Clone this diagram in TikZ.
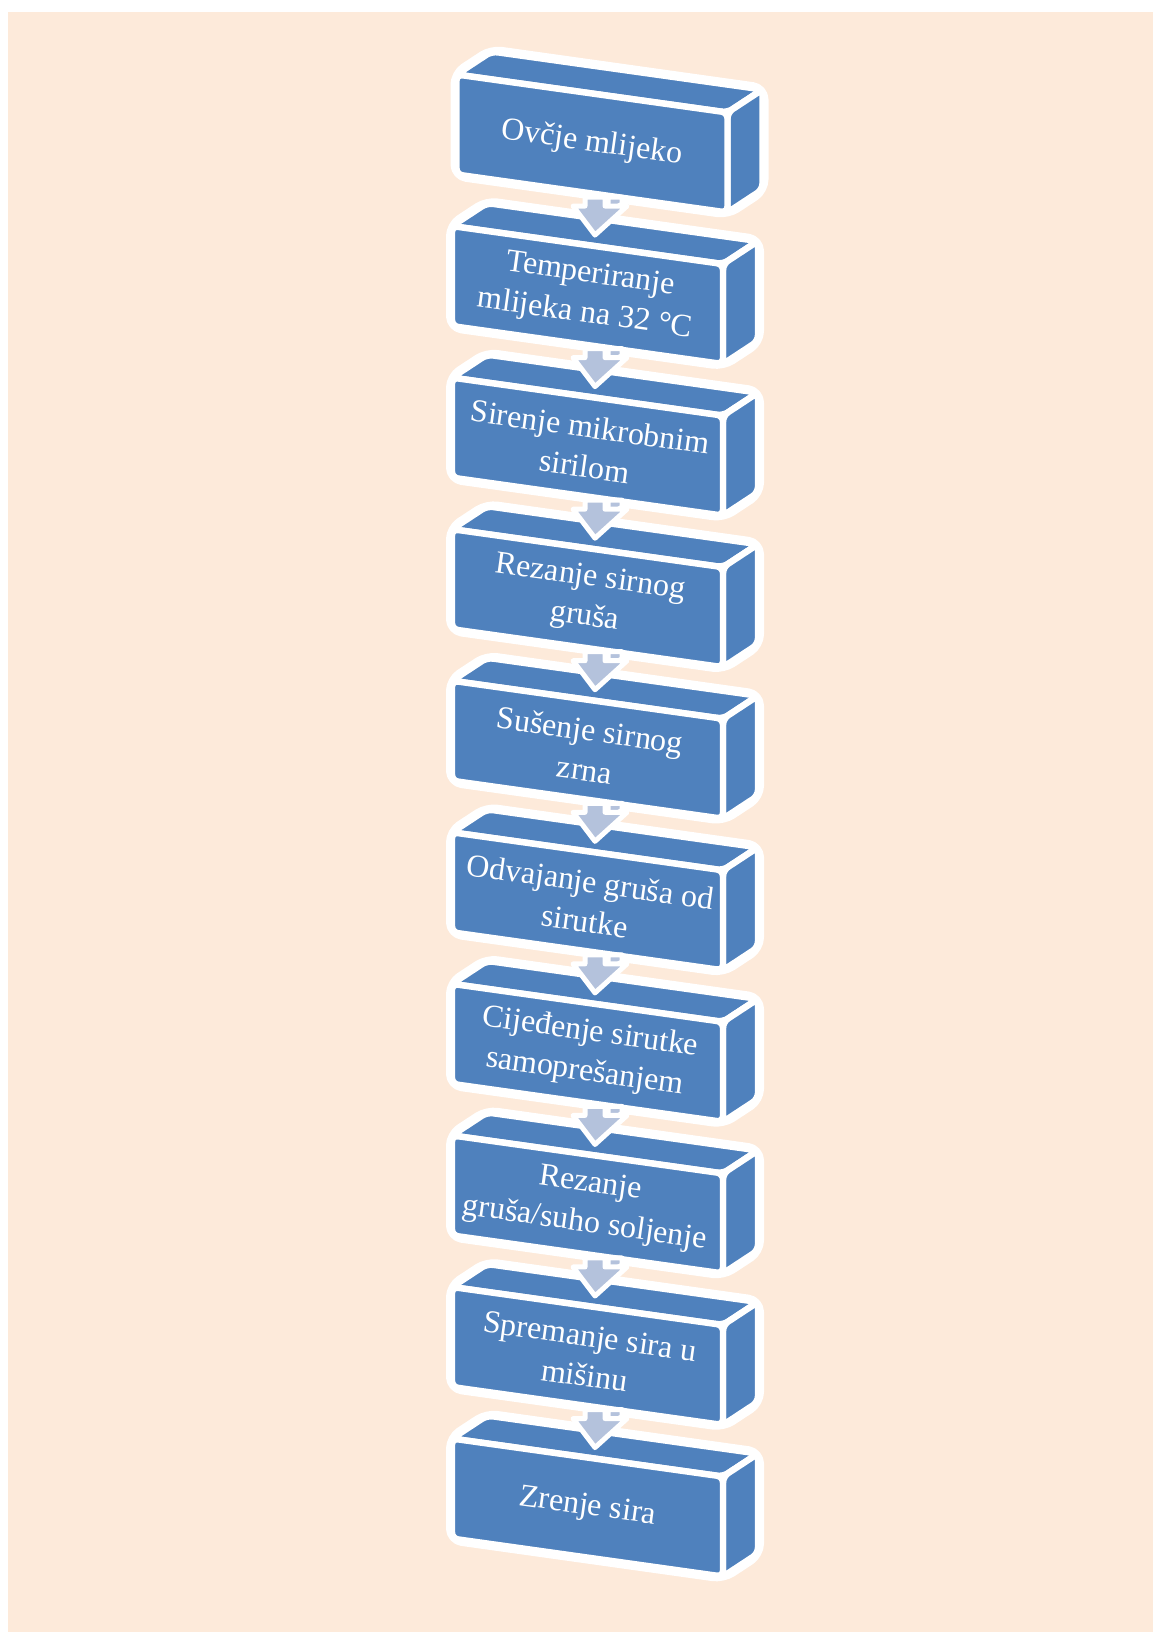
\documentclass[tikz,border=0pt]{standalone}
\usepackage{fontspec}
\setmainfont{Liberation Serif}
\usepackage{tikz}
\usetikzlibrary{positioning}

\definecolor{peach}{HTML}{FDEADA}
\definecolor{stepblue}{HTML}{4F81BD}
\definecolor{arrowgray}{HTML}{B4C2DC}

\newcommand{\flowbox}[4]{%
  \filldraw[boxrim] (#2,#3) -- ++(35,-23) -- ++(271,38) -- ++(0,100) -- ++(-35,23) -- ++(-271,-38) -- cycle;
  \filldraw[boxface] (#2,#3) -- ++(35,-23) -- ++(271,38) -- ++(-35,23) -- cycle;
  \filldraw[boxface] (#2+271,#3+38) -- ++(35,-23) -- ++(0,100) -- ++(-35,23) -- cycle;
  \filldraw[boxface] (#2,#3) -- ++(271,38) -- ++(0,100) -- ++(-271,-38) -- cycle;
  \node[steptext] (#1) at (#2+135.5,#3+69) {#4};
  \coordinate (#1-in) at (#2+143,#3+9);
}
\newcommand{\flowarrow}[1]{%
  \filldraw[arrowface, shift={(#1-in)}] (13,-38) -- (27,-38) -- (27,-31) -- (13,-23) -- cycle;
  \filldraw[arrowface, shift={(#1-in)}] (-10,-38) -- (10,-38) -- (10,-29) -- (32,-29) -- (0,0) -- (-22,-29) -- (-10,-29) -- cycle;
}

\begin{document}
\begin{tikzpicture}[x=0.5pt, y=-0.5pt,
    boxrim/.style={fill=white, draw=white, line width=6pt, line join=round, rounded corners=5pt},
    boxface/.style={fill=stepblue, draw=white, line width=3.2pt, line join=round, rounded corners=3pt},
    arrowface/.style={fill=arrowgray, draw=white, line width=2.5pt, line join=round},
    steptext/.style={text=white, align=center, rotate=-8, inner sep=0pt, font=\fontsize{16}{20}\selectfont}]
  \useasboundingbox (0,0) rectangle (1153,1632);
  \fill[peach] (8,12) rectangle (1153,1632);
  \flowbox{s1}{456.5}{74.5}{Ovčje mlijeko}
  \flowbox{s2}{452}{226.06}{Temperiranje\\mlijeka na 32 °C}
  \flowarrow{s2}
  \flowbox{s3}{452}{377.62}{Sirenje mikrobnim\\sirilom}
  \flowarrow{s3}
  \flowbox{s4}{452}{529.18}{Rezanje sirnog\\gruša}
  \flowarrow{s4}
  \flowbox{s5}{452}{680.74}{Sušenje sirnog\\zrna}
  \flowarrow{s5}
  \flowbox{s6}{452}{832.3}{Odvajanje gruša od\\sirutke}
  \flowarrow{s6}
  \flowbox{s7}{452}{983.86}{Cijeđenje sirutke\\samoprešanjem}
  \flowarrow{s7}
  \flowbox{s8}{452}{1135.42}{Rezanje\\gruša/suho soljenje}
  \flowarrow{s8}
  \flowbox{s9}{452}{1286.98}{Spremanje sira u\\mišinu}
  \flowarrow{s9}
  \flowbox{s10}{452}{1438.54}{Zrenje sira}
  \flowarrow{s10}
\end{tikzpicture}
\end{document}
